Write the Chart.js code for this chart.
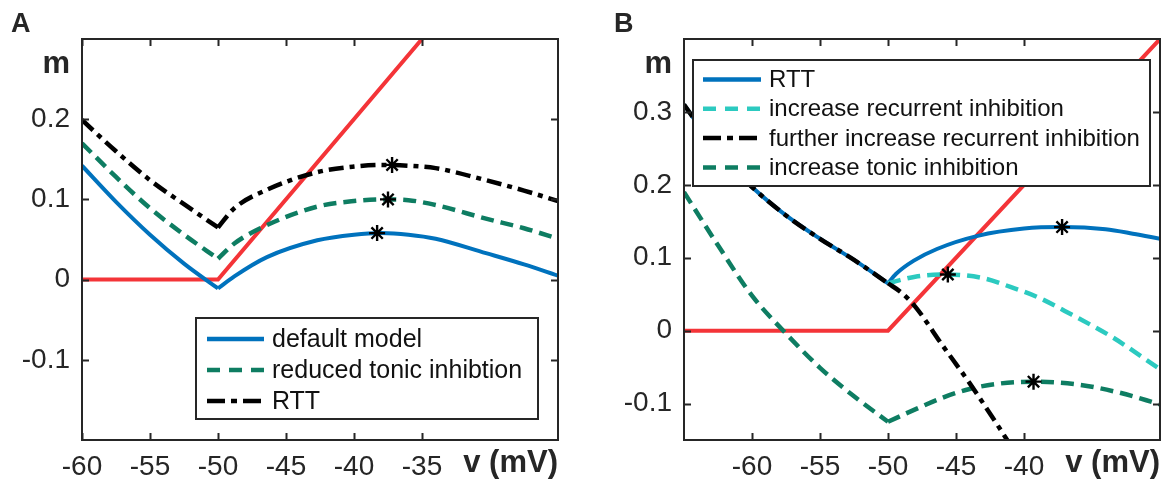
<!DOCTYPE html>
<html>
<head>
<meta charset="utf-8">
<title>m nullclines</title>
<script src="https://cdn.jsdelivr.net/npm/chart.js@4/dist/chart.umd.min.js"></script>
<style>
  html, body { margin: 0; padding: 0; background: #fff; overflow: hidden; }
  #fig { position: relative; width: 1171px; height: 487px; }
  #fig canvas { position: absolute; top: 0; }
  #chart-a { left: 0; }
  #chart-b { left: 590px; }
</style>
</head>
<body>
<div id="fig">
  <canvas id="chart-a" width="580" height="487"></canvas>
  <canvas id="chart-b" width="581" height="487"></canvas>
</div>
<script>
// ---- panel A: v in mV, m unitless ----
const aTicksV = [-60, -55, -50, -45, -40, -35]
const aTicksM = [-0.1, 0, 0.1, 0.2]
const aNames = ['default model', 'reduced tonic inhibtion', 'RTT']
const aLeftV = [-60, -57.5, -55, -52.5, -50]
const aRightV = [-50, -48.8, -46.4, -42.7, -40, -38, -36, -34, -30.3, -27.5, -25]
const aDefaultLeft = [0.142, 0.097, 0.056, 0.020, -0.011]
const aDefaultRight = [-0.011, 0.004, 0.028, 0.049, 0.056, 0.058, 0.056, 0.051, 0.033, 0.019, 0.005]
const aReducedLeft = [0.170, 0.128, 0.089, 0.056, 0.026]
const aReducedRight = [0.026, 0.045, 0.068, 0.091, 0.098, 0.100, 0.099, 0.093, 0.076, 0.064, 0.051]
const aRttLeft = [0.199, 0.160, 0.124, 0.094, 0.065]
const aRttRight = [0.065, 0.089, 0.112, 0.134, 0.141, 0.143, 0.142, 0.139, 0.124, 0.111, 0.098]
const aThreshV = [-60, -50, -35]
const aThreshM = [0, 0, 0.3]
const aPeakV = [-38.3, -37.5, -37.2]
const aPeakM = [0.058, 0.100, 0.143]

// ---- panel B ----
const bTicksV = [-60, -55, -50, -45, -40]
const bTicksM = [-0.1, 0, 0.1, 0.2, 0.3]
const bNames = ['RTT', 'increase recurrent inhibition', 'further increase recurrent inhibition', 'increase tonic inhibition']
const bLeftV = [-65, -62.5, -60, -57.5, -55, -52.5, -50]
const bRttLeft = [0.310, 0.245, 0.197, 0.158, 0.126, 0.097, 0.065]
const bRttRightV = [-50, -49.4, -48.1, -46.4, -43.4, -40, -37.2, -34, -32, -30]
const bRttRight = [0.065, 0.078, 0.096, 0.112, 0.130, 0.140, 0.142, 0.139, 0.133, 0.126]
const bRecurV = [-50, -48, -45.6, -43, -41, -39, -36.5, -33.5, -30]
const bRecur = [0.065, 0.074, 0.077, 0.072, 0.060, 0.046, 0.022, -0.009, -0.053]
// below -50 the "further increase" branch lies on top of the RTT one
const bFurtherLeft = [0.310, 0.245, 0.197, 0.158, 0.126, 0.097, 0.065]
const bFurtherV = [-50, -49, -48, -46, -44, -42, -41]
const bFurther = [0.065, 0.052, 0.033, -0.020, -0.072, -0.128, -0.157]
const bTonicLeft = [0.190, 0.117, 0.048, -0.004, -0.051, -0.090, -0.125]
const bTonicRightV = [-50, -48, -46, -44, -42, -39.3, -36, -33, -30]
const bTonicRight = [-0.125, -0.108, -0.092, -0.080, -0.073, -0.070, -0.074, -0.085, -0.101]
const bThreshV = [-65, -50, -30]
const bThreshM = [0, 0, 0.4]
const bPeakV = [-37.2, -45.6, -39.3]
const bPeakM = [0.142, 0.077, -0.070]

const FONT = '"Liberation Sans", Arial, Helvetica, sans-serif'
const AXIS = 'rgb(38, 38, 38)'
const BLUE = 'rgb(0, 114, 189)'
const RED = 'rgb(244, 52, 56)'
const GREEN = 'rgb(14, 125, 98)'
const CYAN = 'rgb(44, 202, 192)'
const BLACK = 'rgb(0, 0, 0)'
const DASHED = [13, 7]
const DASHDOT = [15, 6, 5, 6]

function pairs(vs, ms) {
  return vs.map((v, i) => ({ x: v, y: ms[i] }))
}

function curve(vs, ms, color, dash, order) {
  return {
    data: pairs(vs, ms),
    borderColor: color,
    borderWidth: dash ? 4.5 : 4,
    borderDash: dash || [],
    borderCapStyle: 'butt',
    pointRadius: 0,
    cubicInterpolationMode: 'monotone',
    clip: 0,
    order
  }
}

function threshold(vs, ms) {
  return Object.assign(curve(vs, ms, RED, null, 9), { cubicInterpolationMode: 'default', tension: 0 })
}

function peaks(vs, ms) {
  return {
    data: pairs(vs, ms),
    showLine: false,
    pointStyle: 'star',
    pointRadius: 8,
    pointBorderWidth: 2.4,
    pointBorderColor: BLACK,
    pointBackgroundColor: BLACK,
    clip: false,
    order: 0
  }
}

// box, inward ticks, axis names, panel letter and the boxed legend
const decor = {
  id: 'decor',
  afterDraw(chart, args, o) {
    const { ctx, chartArea: a } = chart
    const xs = chart.scales.x
    const ys = chart.scales.y
    ctx.save()
    ctx.strokeStyle = AXIS
    ctx.lineWidth = 2
    ctx.setLineDash([])
    ctx.beginPath()
    xs.ticks.forEach(t => {
      const p = Math.round(xs.getPixelForValue(t.value)) + 0.5
      ctx.moveTo(p, a.bottom); ctx.lineTo(p, a.bottom - 7)
      ctx.moveTo(p, a.top); ctx.lineTo(p, a.top + 7)
    })
    ys.ticks.forEach(t => {
      const p = Math.round(ys.getPixelForValue(t.value)) + 0.5
      ctx.moveTo(a.left, p); ctx.lineTo(a.left + 7, p)
      ctx.moveTo(a.right, p); ctx.lineTo(a.right - 7, p)
    })
    ctx.stroke()
    ctx.strokeRect(a.left, a.top, a.right - a.left, a.bottom - a.top)

    ctx.fillStyle = AXIS
    ctx.textBaseline = 'alphabetic'
    ctx.font = `bold 27px ${FONT}`
    ctx.textAlign = 'left'
    ctx.fillText(o.letter, o.letterX, 32)
    ctx.font = `bold 31px ${FONT}`
    ctx.textAlign = 'right'
    ctx.fillText('m', a.left - 12, 73)
    ctx.fillText('v (mV)', a.right, 472)

    const L = o.legend
    ctx.fillStyle = '#fff'
    ctx.fillRect(L.left, L.top, L.width, L.height)
    ctx.strokeStyle = AXIS
    ctx.lineWidth = 2
    ctx.strokeRect(L.left, L.top, L.width, L.height)
    ctx.font = `${L.size}px ${FONT}`
    ctx.textAlign = 'left'
    ctx.textBaseline = 'middle'
    L.items.forEach((it, i) => {
      const y = L.top + L.first + i * L.step
      ctx.strokeStyle = it.color
      ctx.lineWidth = 4.5
      ctx.setLineDash(it.dash)
      ctx.beginPath()
      ctx.moveTo(L.left + L.s0, y)
      ctx.lineTo(L.left + L.s1, y)
      ctx.stroke()
      ctx.setLineDash([])
      ctx.fillStyle = '#111'
      ctx.fillText(it.label, L.left + L.tx, y + 1)
    })
    ctx.restore()
  }
}

function axes(xmin, xmax, xticks, ymin, ymax, yticks, yWidth) {
  const tickFont = { family: FONT, size: 28 }
  return {
    x: {
      type: 'linear', min: xmin, max: xmax,
      grid: { display: false, drawTicks: false },
      border: { display: false },
      afterBuildTicks: s => { s.ticks = xticks.map(v => ({ value: v })) },
      afterFit: s => { s.height = 47 },
      ticks: { font: tickFont, color: AXIS, padding: 10, maxRotation: 0, autoSkip: false, callback: v => String(v) }
    },
    y: {
      type: 'linear', min: ymin, max: ymax,
      grid: { display: false, drawTicks: false },
      border: { display: false },
      afterBuildTicks: s => { s.ticks = yticks.map(v => ({ value: v })) },
      afterFit: s => { s.width = yWidth },
      ticks: { font: tickFont, color: AXIS, padding: 12, autoSkip: false, callback: v => String(v) }
    }
  }
}

const baseOptions = {
  responsive: false,
  animation: false,
  devicePixelRatio: 1,
  events: [],
  plugins: { legend: { display: false }, tooltip: { enabled: false } }
}

new Chart(document.getElementById('chart-a'), {
  type: 'line',
  data: {
    datasets: [
      peaks(aPeakV, aPeakM),
      curve(aLeftV, aRttLeft, BLACK, DASHDOT, 1),
      curve(aRightV, aRttRight, BLACK, DASHDOT, 1),
      curve(aLeftV, aReducedLeft, GREEN, DASHED, 2),
      curve(aRightV, aReducedRight, GREEN, DASHED, 2),
      curve(aLeftV, aDefaultLeft, BLUE, null, 3),
      curve(aRightV, aDefaultRight, BLUE, null, 3),
      threshold(aThreshV, aThreshM)
    ]
  },
  options: Object.assign({}, baseOptions, {
    layout: { padding: { top: 39, right: 22, left: 0, bottom: 0 } },
    scales: axes(-60, -25, aTicksV, -0.2, 0.3, aTicksM, 82),
    plugins: Object.assign({}, baseOptions.plugins, {
      decor: {
        letter: 'A', letterX: 11,
        legend: {
          left: 196, top: 318, width: 342, height: 101, first: 21, step: 31,
          s0: 11, s1: 68, tx: 76, size: 25,
          items: [
            { label: aNames[0], color: BLUE, dash: [] },
            { label: aNames[1], color: GREEN, dash: [13, 9] },
            { label: aNames[2], color: BLACK, dash: [18, 6, 6, 6] }
          ]
        }
      }
    })
  }),
  plugins: [decor]
})

new Chart(document.getElementById('chart-b'), {
  type: 'line',
  data: {
    datasets: [
      peaks(bPeakV, bPeakM),
      curve(bLeftV, bFurtherLeft, BLACK, DASHDOT, 1),
      curve(bFurtherV, bFurther, BLACK, DASHDOT, 1),
      curve(bRecurV, bRecur, CYAN, DASHED, 2),
      curve(bLeftV, bRttLeft, BLUE, null, 3),
      curve(bRttRightV, bRttRight, BLUE, null, 3),
      curve(bLeftV, bTonicLeft, GREEN, DASHED, 4),
      curve(bTonicRightV, bTonicRight, GREEN, DASHED, 4),
      threshold(bThreshV, bThreshM)
    ]
  },
  options: Object.assign({}, baseOptions, {
    layout: { padding: { top: 39, right: 11, left: 0, bottom: 0 } },
    scales: axes(-65, -30, bTicksV, -0.15, 0.4, bTicksM, 94),
    plugins: Object.assign({}, baseOptions.plugins, {
      decor: {
        letter: 'B', letterX: 24,
        legend: {
          left: 103, top: 60, width: 457, height: 126, first: 19.5, step: 29.3,
          s0: 10, s1: 68, tx: 76, size: 24,
          items: [
            { label: bNames[0], color: BLUE, dash: [] },
            { label: bNames[1], color: CYAN, dash: [13, 9] },
            { label: bNames[2], color: BLACK, dash: [18, 6, 6, 6] },
            { label: bNames[3], color: GREEN, dash: [13, 9] }
          ]
        }
      }
    })
  }),
  plugins: [decor]
})
</script>
</body>
</html>
